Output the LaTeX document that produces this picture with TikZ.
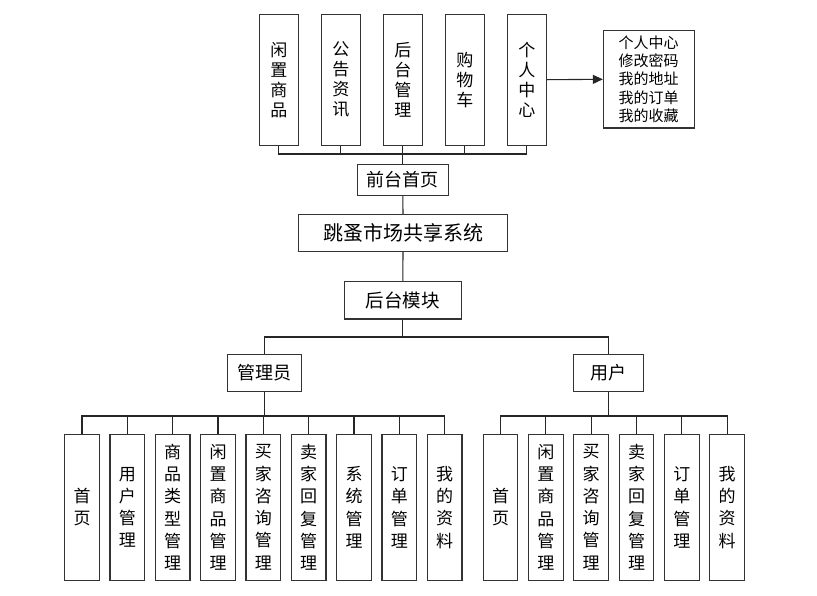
\documentclass[tikz,border=0pt]{standalone}
\usepackage{fontspec}
\setmainfont{Noto Sans CJK SC}
\usetikzlibrary{arrows.meta}

\begin{document}
\begin{tikzpicture}[x=1pt,y=1pt,yscale=-1,xscale=1,
    box/.style={draw=black!80,line width=1.1pt,fill=white,inner sep=0pt,align=center},
    topbox/.style={box,minimum width=39pt,minimum height=131pt,font=\fontsize{17}{20}\selectfont},
    leafbox/.style={box,minimum width=34.6pt,minimum height=146pt,font=\fontsize{17}{22.3}\selectfont},
    midbox/.style={box,minimum height=37.3pt,font=\fontsize{18}{20}\selectfont},
    link/.style={draw=black!85,line width=1.1pt}]
    \useasboundingbox (0,0) rectangle (817,595);
    % Text Node
    \node [topbox] (xzsp) at (278.8,79.7) {闲\\置\\商\\品};
    % Text Node
    \node [topbox] (ggzx) at (340.8,79.7) {公\\告\\资\\讯};
    % Text Node
    \node [topbox] (htgl) at (402.8,79.7) {后\\台\\管\\理};
    % Text Node
    \node [topbox] (gwc) at (464.8,79.7) {购\\物\\车};
    % Text Node
    \node [topbox] (grzx) at (526.8,79.7) {个\\人\\中\\心};
    % Text Node
    \node [box,minimum width=90.7pt,minimum height=97.3pt,font=\fontsize{15}{18.3}\selectfont] (grlist) at (648.7,79.3) {个人中心\\修改密码\\我的地址\\我的订单\\我的收藏};
    % Text Node
    \node [midbox,minimum width=91pt,minimum height=31.3pt] (qtsy) at (402.8,179.7) {前台首页};
    % Text Node
    \node [midbox,minimum width=209.4pt,font=\fontsize{20}{22}\selectfont] (xt) at (403,233) {跳蚤市场共享系统};
    % Text Node
    \node [midbox,minimum width=117pt,font=\fontsize{18.5}{20}\selectfont] (htmk) at (402.8,300.3) {后台模块};
    % Text Node
    \node [midbox,minimum width=74.4pt] (gly) at (264.5,372.7) {管理员};
    % Text Node
    \node [midbox,minimum width=70.4pt] (yh) at (608.5,372.7) {用户};
    % admin leaves
    \node [leafbox] (a1) at (82,507.3) {首\\页};
    \node [leafbox] (a2) at (127.3,507.3) {用\\户\\管\\理};
    \node [leafbox] (a3) at (172.7,507.3) {商\\品\\类\\型\\管\\理};
    \node [leafbox] (a4) at (218,507.3) {闲\\置\\商\\品\\管\\理};
    \node [leafbox] (a5) at (263.3,507.3) {买\\家\\咨\\询\\管\\理};
    \node [leafbox] (a6) at (308.7,507.3) {卖\\家\\回\\复\\管\\理};
    \node [leafbox] (a7) at (354,507.3) {系\\统\\管\\理};
    \node [leafbox] (a8) at (399.3,507.3) {订\\单\\管\\理};
    \node [leafbox] (a9) at (444.7,507.3) {我\\的\\资\\料};
    % user leaves
    \node [leafbox] (u1) at (500.5,507.3) {首\\页};
    \node [leafbox] (u2) at (545.8,507.3) {闲\\置\\商\\品\\管\\理};
    \node [leafbox] (u3) at (591.2,507.3) {买\\家\\咨\\询\\管\\理};
    \node [leafbox] (u4) at (636.5,507.3) {卖\\家\\回\\复\\管\\理};
    \node [leafbox] (u5) at (681.8,507.3) {订\\单\\管\\理};
    \node [leafbox] (u6) at (727.2,507.3) {我\\的\\资\\料};
    % bus points
    \coordinate (qtbus) at (402.8,154);
    \coordinate (htbus) at (402.8,337);
    \coordinate (glybus) at (264.5,416);
    \coordinate (yhbus) at (608.5,416);
    % front end
    \draw [link] (qtsy.north) -- (htgl.south);
    \draw [link] (xzsp.south) |- (qtbus);
    \draw [link] (ggzx.south) |- (qtbus);
    \draw [link] (gwc.south) |- (qtbus);
    \draw [link] (grzx.south) |- (qtbus);
    \draw [link,-{Triangle[length=10pt,width=9pt]}] (grzx.east) -- (grlist.west);
    % trunk
    \draw [link] (xt.north) -- (qtsy.south);
    \draw [link] (xt.south) -- (htmk.north);
    \draw [link] (htmk.south) -- (htbus);
    \draw [link] (gly.north) |- (htbus);
    \draw [link] (yh.north) |- (htbus);
    % admin branch
    \draw [link] (gly.south) -- (glybus);
    \draw [link] (a1.north) |- (glybus);
    \draw [link] (a2.north) |- (glybus);
    \draw [link] (a3.north) |- (glybus);
    \draw [link] (a4.north) |- (glybus);
    \draw [link] (a5.north) |- (glybus);
    \draw [link] (a6.north) |- (glybus);
    \draw [link] (a7.north) |- (glybus);
    \draw [link] (a8.north) |- (glybus);
    \draw [link] (a9.north) |- (glybus);
    % user branch
    \draw [link] (yh.south) -- (yhbus);
    \draw [link] (u1.north) |- (yhbus);
    \draw [link] (u2.north) |- (yhbus);
    \draw [link] (u3.north) |- (yhbus);
    \draw [link] (u4.north) |- (yhbus);
    \draw [link] (u5.north) |- (yhbus);
    \draw [link] (u6.north) |- (yhbus);
\end{tikzpicture}
\end{document}
